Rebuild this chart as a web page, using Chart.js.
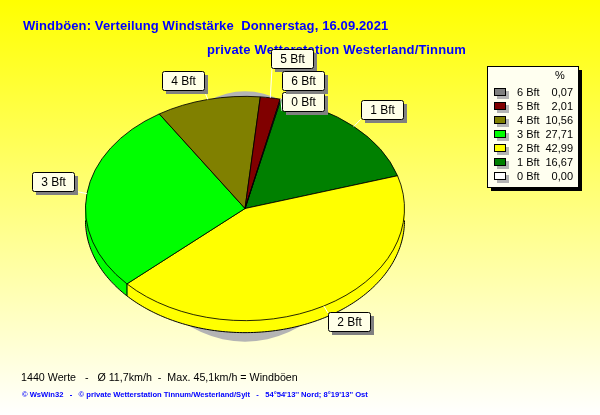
<!DOCTYPE html>
<html>
<head>
<meta charset="utf-8">
<title>Windböen</title>
<script src="https://cdn.jsdelivr.net/npm/chart.js@4/dist/chart.umd.min.js"></script>
<style>
  html, body { margin: 0; padding: 0; background: #fff; }
  canvas { display: block; }
</style>
</head>
<body>
<canvas id="pie" width="600" height="415"></canvas>
<script>
'use strict';

const categories = ['0 Bft', '1 Bft', '2 Bft', '3 Bft', '4 Bft', '5 Bft', '6 Bft'];
const percentValues = [0.00, 16.67, 42.99, 27.71, 10.56, 2.01, 0.07];
const percentLabels = ['0,00', '16,67', '42,99', '27,71', '10,56', '2,01', '0,07'];
const sliceColors = ['#ffffff', '#008000', '#ffff00', '#00ff00', '#808000', '#800000', '#808080'];

const titleLine1 = 'Windböen: Verteilung Windstärke  Donnerstag, 16.09.2021';
const titleLine2 = 'private Wetterstation Westerland/Tinnum';
const statsLine = '1440 Werte   -   Ø 11,7km/h  -  Max. 45,1km/h = Windböen';
const creditLine = '© WsWin32   -   © private Wetterstation Tinnum/Westerland/Sylt   -   54°54\'13\'\' Nord; 8°19\'13\'\' Ost';

// callout boxes, left/top in page pixels
const calloutBoxes = {
  '0 Bft': { x: 282, y: 92, ax: 282, ay: 111 },
  '1 Bft': { x: 361, y: 100, ax: 361, ay: 119 },
  '2 Bft': { x: 328, y: 312, ax: 328, ay: 313 },
  '3 Bft': { x: 32, y: 172, ax: 74, ay: 191 },
  '4 Bft': { x: 162, y: 71, ax: 204, ay: 90 },
  '5 Bft': { x: 271, y: 49, ax: 272, ay: 68 },
  '6 Bft': { x: 282, y: 71, ax: 325, ay: 90 }
};

const squash = 0.703;   // pie is an ellipse, height/width
const depth = 12;       // side wall of the "3D" pie
const uiFont = '"Liberation Sans", Arial, sans-serif';

function arcPoint(el, angle, cy) {
  return {
    x: el.x + el.outerRadius * Math.cos(angle),
    y: cy + el.outerRadius * squash * Math.sin(angle)
  };
}

const pieLook = {
  id: 'pieLook',
  beforeDraw(chart) {
    const { ctx, width, height } = chart;
    const grad = ctx.createLinearGradient(0, 0, 0, height);
    grad.addColorStop(0, '#ffff00');
    grad.addColorStop(1, '#ffffff');
    ctx.save();
    ctx.fillStyle = grad;
    ctx.fillRect(0, 0, width, height);
    ctx.restore();
  },
  beforeDatasetsDraw(chart) {
    const { ctx } = chart;
    const arcs = chart.getDatasetMeta(0).data;
    const first = arcs[0];
    const r = first.outerRadius;
    const cy = first.y;

    // gray drop shadow behind the pie, narrower on top than below
    ctx.save();
    ctx.fillStyle = '#b4b4b4';
    ctx.beginPath();
    ctx.ellipse(first.x, cy + 8, r * 0.6, r * squash + 13, 0, Math.PI, Math.PI * 2);
    ctx.fill();
    ctx.beginPath();
    ctx.ellipse(first.x, cy + 8, r * 0.72, r * squash + 13, 0, 0, Math.PI);
    ctx.fill();
    ctx.restore();

    // side wall, stacked copies of every slice
    for (let d = depth; d >= 1; d--) {
      ctx.save();
      ctx.translate(0, cy + d);
      ctx.scale(1, squash);
      ctx.translate(0, -cy);
      arcs.forEach((el) => {
        if (el.endAngle - el.startAngle <= 0) return;
        ctx.beginPath();
        ctx.moveTo(el.x, el.y);
        ctx.arc(el.x, el.y, r, el.startAngle, el.endAngle);
        ctx.closePath();
        ctx.fillStyle = el.options.backgroundColor;
        ctx.fill();
      });
      ctx.restore();
    }

    // outline of the wall
    ctx.save();
    ctx.strokeStyle = '#000';
    ctx.lineWidth = 1;
    ctx.beginPath();
    for (let i = 0; i <= 180; i++) {
      const a = Math.PI * i / 180;
      const p = arcPoint(first, a, cy + depth);
      if (i === 0) ctx.moveTo(p.x, p.y); else ctx.lineTo(p.x, p.y);
    }
    ctx.stroke();
    arcs.forEach((el) => {
      const a = el.endAngle;
      if (Math.sin(a) > 0 && el.endAngle - el.startAngle > 0) {
        const p = arcPoint(el, a, cy);
        ctx.beginPath();
        ctx.moveTo(p.x, p.y);
        ctx.lineTo(p.x, p.y + depth);
        ctx.stroke();
      }
    });
    ctx.restore();

    // the library draws the top face through this transform
    ctx.save();
    ctx.translate(0, cy);
    ctx.scale(1, squash);
    ctx.translate(0, -cy);
  },
  afterDatasetsDraw(chart) {
    const { ctx } = chart;
    ctx.restore();
    const arcs = chart.getDatasetMeta(0).data;

    // title
    ctx.save();
    ctx.textBaseline = 'alphabetic';
    ctx.fillStyle = '#0000ff';
    ctx.font = 'bold 13px ' + uiFont;
    ctx.textAlign = 'left';
    ctx.letterSpacing = '0.12px';
    ctx.fillText(titleLine1, 23, 30);
    ctx.letterSpacing = '0.16px';
    ctx.fillText(titleLine2, 207, 54);
    ctx.letterSpacing = '0px';

    // footer
    ctx.fillStyle = '#000';
    ctx.font = '10.7px ' + uiFont;
    ctx.fillText(statsLine, 21, 381);
    ctx.fillStyle = '#0000ff';
    ctx.font = 'bold 7.6px ' + uiFont;
    ctx.fillText(creditLine, 22, 397);
    ctx.restore();

    // callouts
    categories.forEach((name, i) => {
      const el = arcs[i];
      const box = calloutBoxes[name];
      const mid = (el.startAngle + el.endAngle) / 2;
      const p = arcPoint(el, mid, el.y);
      ctx.save();
      ctx.strokeStyle = '#fff';
      ctx.lineWidth = 1;
      ctx.beginPath();
      ctx.moveTo(p.x, p.y);
      ctx.lineTo(box.ax, box.ay);
      ctx.stroke();
      ctx.restore();
    });
    categories.forEach((name) => {
      const box = calloutBoxes[name];
      ctx.save();
      ctx.fillStyle = '#808080';
      ctx.fillRect(box.x + 4, box.y + 4, 42, 19);
      ctx.fillStyle = '#ffffe8';
      ctx.strokeStyle = '#000';
      ctx.lineWidth = 1;
      ctx.beginPath();
      ctx.roundRect(box.x + 0.5, box.y + 0.5, 42, 19, 2);
      ctx.fill();
      ctx.stroke();
      ctx.fillStyle = '#000';
      ctx.font = '12px ' + uiFont;
      ctx.textAlign = 'center';
      ctx.textBaseline = 'middle';
      ctx.fillText(name, box.x + 21.5, box.y + 10.5);
      ctx.restore();
    });

    // legend box, highest class on top
    const lx = 487, ly = 66, lw = 91, lh = 121;
    ctx.save();
    ctx.fillStyle = '#000';
    ctx.fillRect(lx + 4, ly + 4, lw, lh);
    ctx.fillStyle = '#fffff0';
    ctx.strokeStyle = '#000';
    ctx.fillRect(lx, ly, lw, lh);
    ctx.strokeRect(lx + 0.5, ly + 0.5, lw, lh);
    ctx.fillStyle = '#000';
    ctx.font = '11px ' + uiFont;
    ctx.textBaseline = 'middle';
    ctx.textAlign = 'center';
    ctx.fillText('%', 560, 76);
    for (let i = categories.length - 1; i >= 0; i--) {
      const y = 92 + (categories.length - 1 - i) * 14;
      ctx.fillStyle = '#b4b4b4';
      ctx.fillRect(497, y - 1, 12, 8);
      ctx.fillStyle = sliceColors[i];
      ctx.fillRect(494.5, y - 3.5, 11, 7);
      ctx.strokeStyle = '#000';
      ctx.strokeRect(494.5, y - 3.5, 11, 7);
      ctx.fillStyle = '#000';
      ctx.textAlign = 'left';
      ctx.fillText(categories[i], 517, y + 0.5);
      ctx.textAlign = 'right';
      ctx.fillText(percentLabels[i], 573, y + 0.5);
    }
    ctx.restore();
  }
};

new Chart(document.getElementById('pie'), {
  type: 'pie',
  data: {
    labels: categories,
    datasets: [{
      data: percentValues,
      backgroundColor: sliceColors,
      borderColor: '#000',
      borderWidth: 1
    }]
  },
  options: {
    responsive: false,
    animation: false,
    rotation: 13,
    layout: { padding: { left: 85, right: 195, top: 48.5, bottom: 46.5 } },
    plugins: { legend: { display: false }, tooltip: { enabled: false }, title: { display: false } }
  },
  plugins: [pieLook]
});
</script>
</body>
</html>
